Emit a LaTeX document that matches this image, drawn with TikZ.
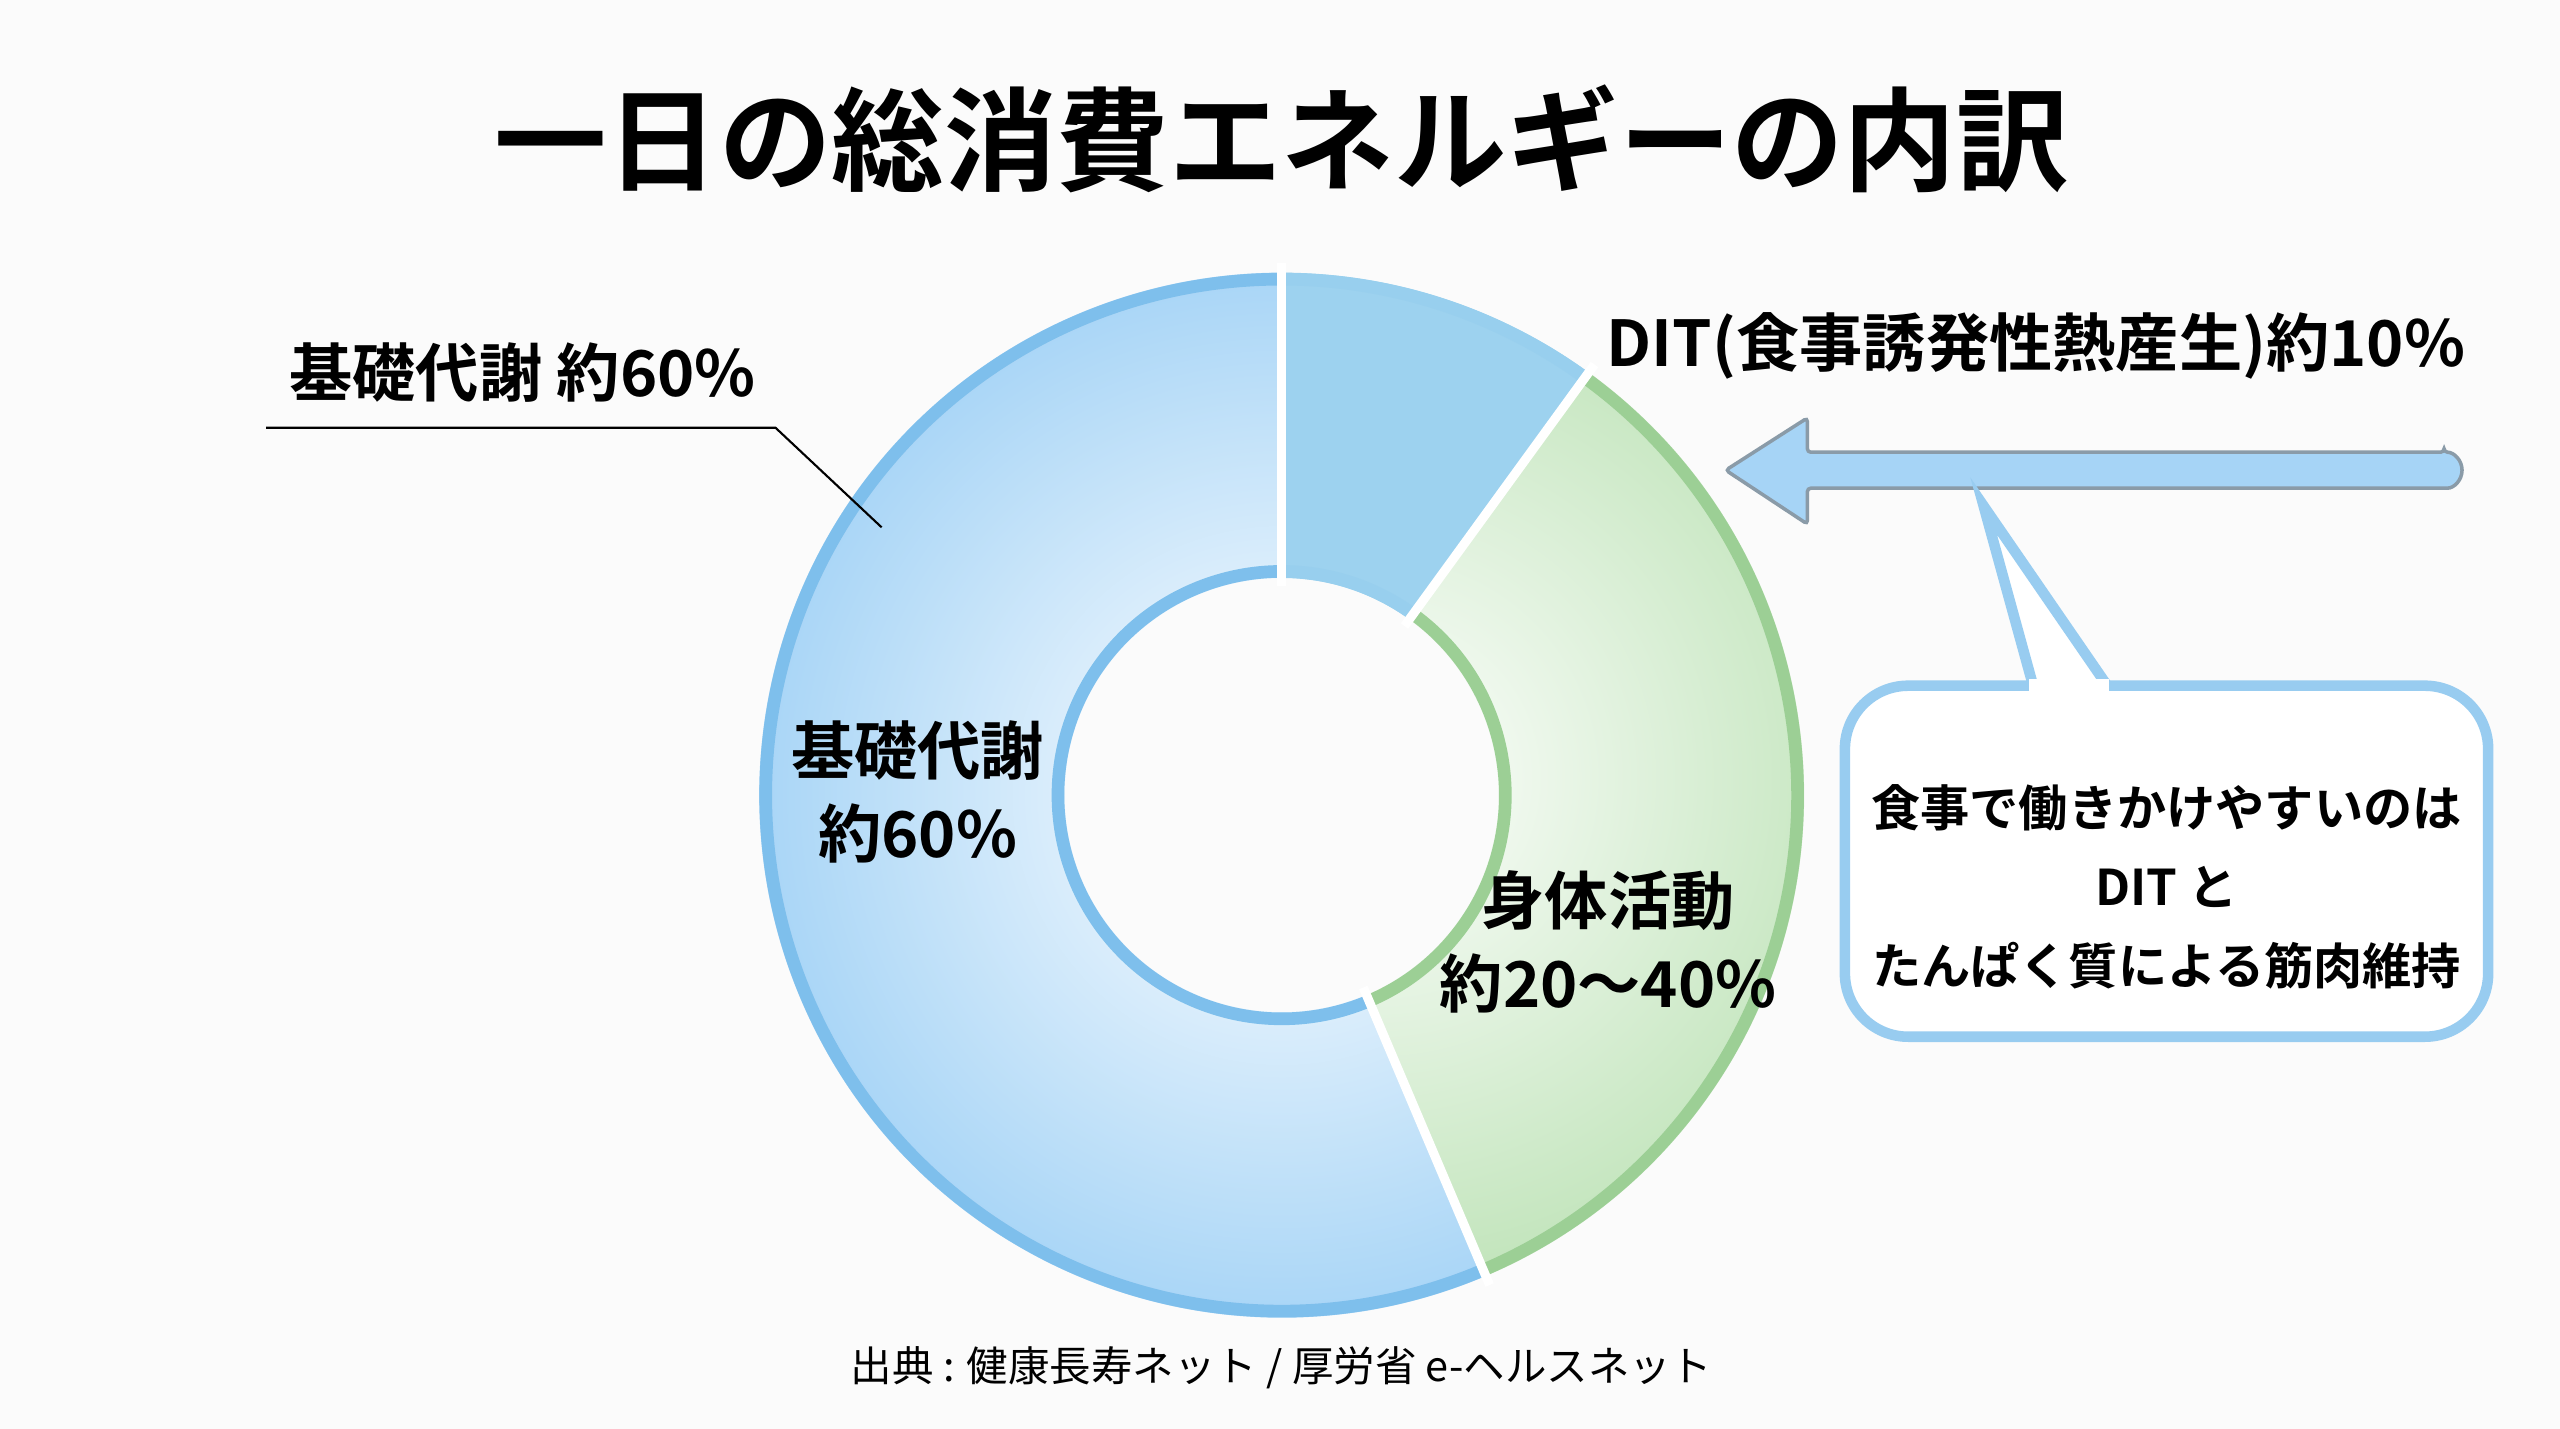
\documentclass[tikz,border=0pt]{standalone}
\usepackage{fontspec}
\usetikzlibrary{calc}
\newfontfamily\jpb{Noto Sans CJK JP Bold}
\newfontfamily\jp{Noto Sans CJK JP}
\definecolor{bgc}{HTML}{FBFBFB}
\definecolor{bluef}{HTML}{A6D4F6}
\definecolor{blueb}{HTML}{7EBFEC}
\definecolor{ditf}{HTML}{9DD2EF}
\definecolor{greenf}{HTML}{BCE2B5}
\definecolor{greenb}{HTML}{9CCF95}
\definecolor{arrowb}{HTML}{8A9BA8}
\begin{document}
\begin{tikzpicture}[x=0.016327cm, y=-0.016327cm,
  lbl/.style={font=\jpb\fontsize{18pt}{23.5pt}\selectfont, align=center},
  note/.style={font=\jpb\fontsize{14pt}{22.5pt}\selectfont, align=center},
  ring/.style={line width=3.6pt}]
\fill[bgc] (0,0) rectangle (1568,875);
\useasboundingbox (0,0) rectangle (1568,875);
\coordinate (c) at (785,487);
% basal metabolism segment
\begin{scope}
  \clip ($(c)+(67:320)$) arc (67:270:320) -- ($(c)+(270:133)$) arc (270:67:133) -- cycle;
  \shade[inner color=white, outer color=bluef] (c) circle (330);
\end{scope}
% DIT segment
\fill[ditf] ($(c)+(-90:320)$) arc (-90:-54:320) -- ($(c)+(-54:133)$) arc (-54:-90:133) -- cycle;
% physical activity segment
\begin{scope}
  \clip ($(c)+(-54:320)$) arc (-54:67:320) -- ($(c)+(67:133)$) arc (67:-54:133) -- cycle;
  \shade[inner color=white, outer color=greenf] ($(c)+(-10:60)$) circle (340);
\end{scope}
% borders
\draw[ring, blueb] ($(c)+(67:316)$) arc (67:270:316);
\draw[ring, blueb] ($(c)+(67:137)$) arc (67:270:137);
\draw[ring, ditf!85!blueb] ($(c)+(-90:316)$) arc (-90:-54:316);
\draw[ring, ditf!85!blueb] ($(c)+(-90:137)$) arc (-90:-54:137);
\draw[ring, greenb] ($(c)+(-54:316)$) arc (-54:67:316);
\draw[ring, greenb] ($(c)+(-54:137)$) arc (-54:67:137);
\foreach \a in {-90,-54,67}
  \draw[white, line width=2.6pt] ($(c)+(\a:128)$) -- ($(c)+(\a:326)$);

\node[font=\jpb\fontsize{32pt}{36pt}\selectfont] (title) at (785,85) {一日の総消費エネルギーの内訳};
\node[lbl] (basal) at (320,228) {基礎代謝 約60\%};
\coordinate (basalend) at (540,323);
\draw[black, line width=0.6pt] (163,262) -- (475,262) -- (basalend);
\node[lbl] (basalin) at (562,485) {基礎代謝\\約60\%};
\node[lbl] (act) at (985,577) {身体活動\\約20〜40\%};
\node[lbl] (dit) at (1247,212) {DIT(食事誘発性熱産生)約10\%};

% arrow
\draw[arrowb, fill=bluef, line width=1pt, rounded corners=1pt]
  (1497,277) -- (1107,277) -- (1107,256) -- (1057,288) -- (1107,321) -- (1107,299) -- (1497,299)
  arc (90:-90:11) -- cycle;

% callout
\draw[blueb!80, fill=white, line width=3pt, rounded corners=18pt]
  (1130,420) rectangle (1524,635);
\draw[blueb!80, fill=white, line width=3pt, line join=miter]
  (1245,419) -- (1215,310) -- (1290,419);
\fill[white] (1243,416) rectangle (1292,424);
\node[note] (dnote) at (1327,543) {食事で働きかけやすいのは\\DIT と\\たんぱく質による筋肉維持};

\node[font=\jp\fontsize{11.8pt}{15pt}\selectfont] (src) at (785,838) {出典 : 健康長寿ネット / 厚労省 e-ヘルスネット};
\end{tikzpicture}
\end{document}
